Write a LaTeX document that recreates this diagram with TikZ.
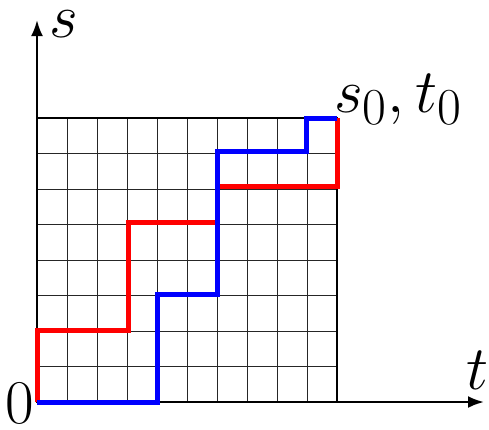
\documentclass[tikz,border=0pt]{standalone}
\usepackage{graphicx}
\usetikzlibrary{arrows.meta}
\newcommand{\biglbl}[1]{\scalebox{2.5}{\Huge$#1$}}
\begin{document}
\begin{tikzpicture}[x=1pt,y=-1pt,
  gridline/.style={black!85,line width=0.8pt},
  axisline/.style={black,line width=2.4pt,-{Latex[length=16pt,width=12pt]}},
  frameline/.style={black,line width=2.2pt},
  redpath/.style={red,line width=5pt,line join=miter},
  bluepath/.style={blue,line width=5pt,line join=miter},
  lbl/.style={inner sep=0pt}]
\useasboundingbox (0,0) rectangle (489,429);
% grid: 10 columns x 8 rows, from (37,118) to (337,402)
\foreach \i in {1,...,9} \draw[gridline] (37+30*\i,118) -- (37+30*\i,402);
\foreach \j in {1,...,7} \draw[gridline] (37,402-35.5*\j) -- (337,402-35.5*\j);
\draw[frameline] (37,118) rectangle (337,402);
% axes
\coordinate (o) at (37,402);
\coordinate (ytip) at (37,20);
\coordinate (xtip) at (484,402);
\draw[axisline] (o) -- (ytip);
\draw[axisline] (o) -- (xtip);
% paths
\draw[redpath] (37,402) -- (37,330) -- (128,330) -- (128,222) -- (217,222) -- (217,186) -- (337,186) -- (337,118);
\draw[bluepath] (37,402) -- (157,402) -- (157,294) -- (217,294) -- (217,151) -- (306,151) -- (306,118) -- (337,118);
% labels
\node[lbl,anchor=base west] (slab) at (49,37) {\biglbl{s}};
\node[lbl,anchor=base west] (tlab) at (466,389) {\biglbl{t}};
\node[lbl,anchor=base] (zlab) at (20,423) {\biglbl{0}};
\node[lbl,anchor=base west] (stlab) at (334,112) {\biglbl{s_0,t_0}};
\end{tikzpicture}
\end{document}
